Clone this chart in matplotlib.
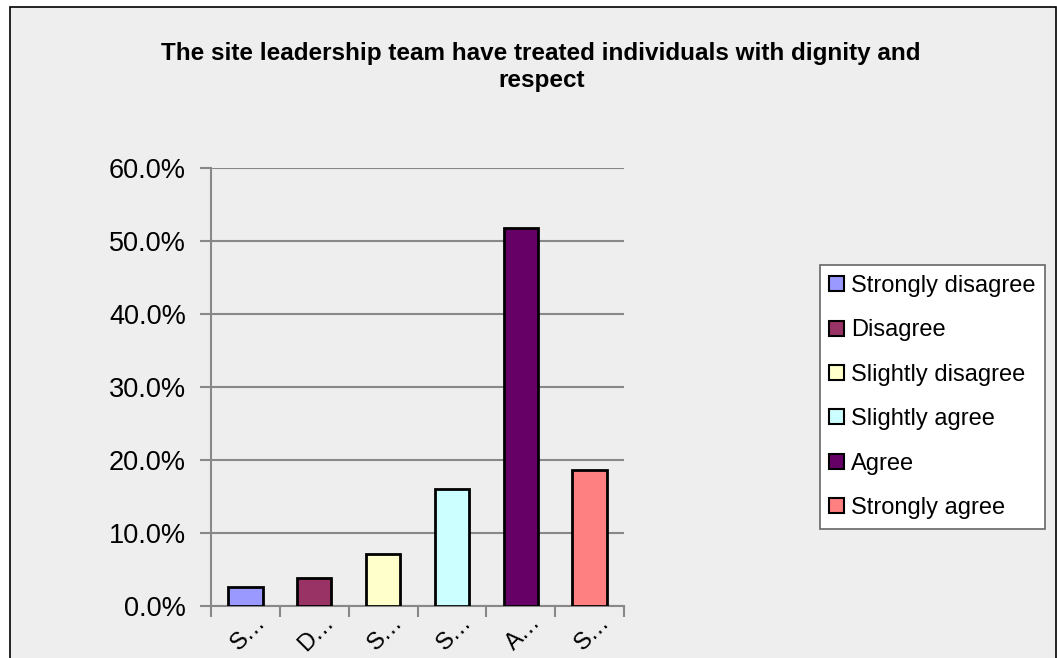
import matplotlib
matplotlib.use('Agg')
import matplotlib.pyplot as plt
import matplotlib.transforms as mtransforms
from matplotlib.patches import Rectangle, Patch

plt.rcParams['font.family'] = ['Liberation Sans', 'DejaVu Sans']

categories = ['Strongly disagree', 'Disagree', 'Slightly disagree',
              'Slightly agree', 'Agree', 'Strongly agree']
short_labels = ['S…', 'D…', 'S…', 'S…', 'A…', 'S…']
values = [2.6, 3.8, 7.1, 16.0, 51.8, 18.6]
colors = ['#9999FF', '#993366', '#FFFFCC', '#CCFFFF', '#660066', '#FF8080']
yticks = [0, 10, 20, 30, 40, 50, 60]

W, H = 1057, 658
fig = plt.figure(figsize=(W / 100, H / 100), dpi=100)
fig.patch.set_facecolor('white')

# chart area frame
fig.patches.append(Rectangle((10 / W, -0.01), (W - 11) / W, 1 - 7 / H + 0.01,
                             transform=fig.transFigure, facecolor='#EEEEEE',
                             edgecolor='black', linewidth=1.2, zorder=-5))

ax = fig.add_axes([211 / W, 1 - 606 / H, (624 - 211) / W, (606 - 168) / H])
ax.set_facecolor('none')
ax.set_zorder(2)

x = list(range(len(values)))
ax.bar(x, values, width=0.5, color=colors, edgecolor='black', linewidth=2, zorder=3)

ax.set_xlim(-0.5, len(values) - 0.5)
ax.set_ylim(0, 60)
ax.set_yticks(yticks)
ax.set_yticklabels([f'{v:.1f}%' for v in yticks], fontsize=19.5)
ax.yaxis.grid(True, color='#888888', linewidth=1.5, zorder=0)

ax.set_xticks([i - 0.5 for i in range(len(values) + 1)])
ax.set_xticklabels([])
ax.tick_params(axis='x', which='major', length=8, width=1.5, color='#888888', direction='out')
ax.tick_params(axis='y', length=8, width=1.5, color='#888888', direction='out', pad=10)

# truncated category labels, rotated, sitting just right of each bar centre
lab_tr = ax.get_xaxis_transform() + mtransforms.ScaledTranslation(9 / 100, -5 / 100, fig.dpi_scale_trans)
for xi, lab in zip(x, short_labels):
    ax.text(xi, 0, lab, transform=lab_tr, rotation=45, fontsize=17,
            ha='right', va='top', rotation_mode='anchor', clip_on=False)

for s in ['top', 'right']:
    ax.spines[s].set_visible(False)
for s in ['left', 'bottom']:
    ax.spines[s].set_color('#888888')
    ax.spines[s].set_linewidth(1.5)

fig.text(0.512, 1 - 67 / H, 'The site leadership team have treated individuals with dignity and\nrespect',
         ha='center', va='center', fontsize=17.5, fontweight='bold', linespacing=1.25)

handles = [Patch(facecolor=c, edgecolor='black', linewidth=1.5) for c in colors]
leg = fig.legend(handles, categories, loc='center left', bbox_to_anchor=(820 / W, 1 - 397 / H),
                 fontsize=17, frameon=True, fancybox=False, handlelength=0.6,
                 handleheight=0.6, handletextpad=0.3, labelspacing=0.95,
                 borderpad=0.4, borderaxespad=0, framealpha=1)
leg.get_frame().set_edgecolor('#666666')
leg.get_frame().set_linewidth(1.2)

fig.savefig('out.png', dpi=100)
